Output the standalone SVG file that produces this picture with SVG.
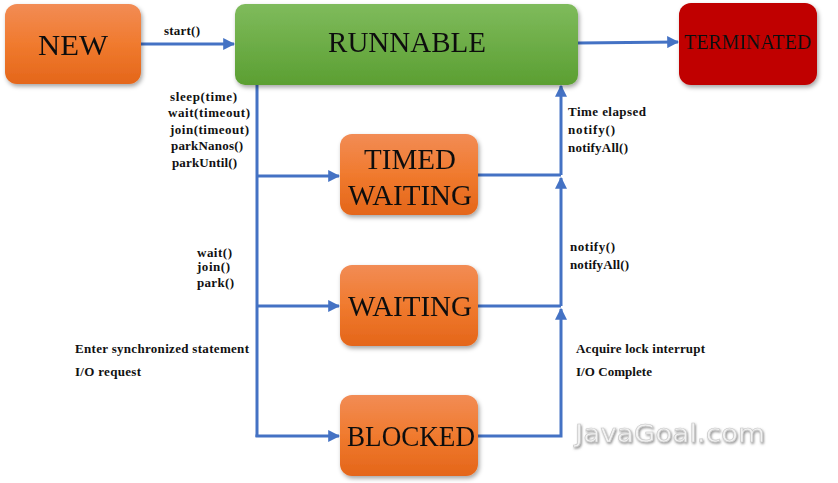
<svg xmlns="http://www.w3.org/2000/svg" width="838" height="483" viewBox="0 0 838 483">
<defs>
<linearGradient id="og" x1="0" y1="0" x2="0" y2="1"><stop offset="0" stop-color="#f28c55"/><stop offset="0.5" stop-color="#f07a2e"/><stop offset="1" stop-color="#e4661a"/></linearGradient>
<linearGradient id="gg" x1="0" y1="0" x2="0" y2="1"><stop offset="0" stop-color="#7fbb5c"/><stop offset="1" stop-color="#5b9f32"/></linearGradient>
<filter id="sh" x="-10%" y="-10%" width="125%" height="130%"><feDropShadow dx="1.5" dy="2.5" stdDeviation="2" flood-color="#000" flood-opacity="0.35"/></filter>
<filter id="ws" x="-5%" y="-20%" width="110%" height="150%"><feDropShadow dx="1" dy="1.5" stdDeviation="0.8" flood-color="#777" flood-opacity="0.8"/></filter>
<marker id="ah" viewBox="0 0 10 10" refX="9" refY="5" markerWidth="4" markerHeight="4" orient="auto" markerUnits="strokeWidth"><path d="M0,0 L10,5 L0,10 z" fill="#4472c4"/></marker>
</defs>
<style>
.n{filter:url(#sh)}
.t{font-family:"Liberation Serif","DejaVu Serif",serif;fill:#111;text-anchor:middle}
.l{font-family:"Liberation Serif","DejaVu Serif",serif;font-weight:bold;font-size:13px;fill:#111}
.c{fill:none;stroke:#4472c4;stroke-width:3}
</style>
<g id="connectors">
<line class="c" x1="141" y1="44" x2="234" y2="44" marker-end="url(#ah)"/>
<line class="c" x1="578" y1="43" x2="678" y2="42" marker-end="url(#ah)"/>
<line class="c" x1="257" y1="85" x2="257" y2="437"/>
<line class="c" x1="257" y1="176" x2="339" y2="176" marker-end="url(#ah)"/>
<line class="c" x1="257" y1="306" x2="339" y2="306" marker-end="url(#ah)"/>
<line class="c" x1="255.5" y1="436" x2="339" y2="436" marker-end="url(#ah)"/>
<polyline class="c" points="478,436 561,436 561,309" marker-end="url(#ah)"/>
<line class="c" x1="478" y1="306" x2="561" y2="306"/>
<line class="c" x1="561" y1="306" x2="561" y2="178" marker-end="url(#ah)"/>
<line class="c" x1="478" y1="175" x2="561" y2="175"/>
<line class="c" x1="561" y1="175" x2="561" y2="86" marker-end="url(#ah)"/>
</g>
<g id="new" class="n"><rect x="5" y="4" width="136" height="80" rx="12" fill="url(#og)"/><text class="t" x="73" y="55" font-size="30" textLength="70" lengthAdjust="spacingAndGlyphs">NEW</text></g>
<g id="runnable" class="n"><rect x="235" y="4" width="343" height="81" rx="10" fill="url(#gg)"/><text class="t" x="407" y="52" font-size="29">RUNNABLE</text></g>
<g id="terminated" class="n"><rect x="679" y="3" width="138" height="82" rx="12" fill="#c00000"/><text class="t" x="748" y="49" font-size="20" textLength="127" lengthAdjust="spacingAndGlyphs">TERMINATED</text></g>
<g id="timed-waiting" class="n"><rect x="340" y="134" width="138" height="81" rx="12" fill="url(#og)"/><text class="t" x="410" y="169" font-size="29">TIMED</text><text class="t" x="410" y="205" font-size="29">WAITING</text></g>
<g id="waiting" class="n"><rect x="340" y="265" width="138" height="81" rx="12" fill="url(#og)"/><text class="t" x="410" y="316" font-size="29">WAITING</text></g>
<g id="blocked" class="n"><rect x="340" y="395" width="138" height="81" rx="12" fill="url(#og)"/><text class="t" x="411" y="446" font-size="29" textLength="128" lengthAdjust="spacingAndGlyphs">BLOCKED</text></g>
<g id="labels">
<text class="l" x="164" y="35" textLength="36">start()</text>
<text class="l" x="170" y="101" textLength="67">sleep(time)</text>
<text class="l" x="168" y="117" textLength="82">wait(timeout)</text>
<text class="l" x="170" y="134" textLength="79">join(timeout)</text>
<text class="l" x="171" y="150" textLength="72">parkNanos()</text>
<text class="l" x="172" y="167" textLength="65">parkUntil()</text>
<text class="l" x="568" y="116" textLength="78">Time elapsed</text>
<text class="l" x="568" y="134" textLength="47">notify()</text>
<text class="l" x="568" y="152" textLength="60">notifyAll()</text>
<text class="l" x="197" y="257" textLength="35">wait()</text>
<text class="l" x="197" y="271" textLength="33">join()</text>
<text class="l" x="197" y="287" textLength="37">park()</text>
<text class="l" x="570" y="251" textLength="45">notify()</text>
<text class="l" x="570" y="269" textLength="59">notifyAll()</text>
<text class="l" x="75" y="353" textLength="174">Enter synchronized statement</text>
<text class="l" x="75" y="376" textLength="66">I/O request</text>
<text class="l" x="576" y="353" textLength="129">Acquire lock interrupt</text>
<text class="l" x="576" y="376" textLength="76">I/O Complete</text>
</g>
<g id="watermark"><text x="575" y="442" font-family="'DejaVu Sans','Liberation Sans',sans-serif" font-size="24" fill="#f2f2f2" stroke="#c8c8c8" stroke-width="0.6" filter="url(#ws)" textLength="190" lengthAdjust="spacingAndGlyphs">JavaGoal.com</text></g>
</svg>
